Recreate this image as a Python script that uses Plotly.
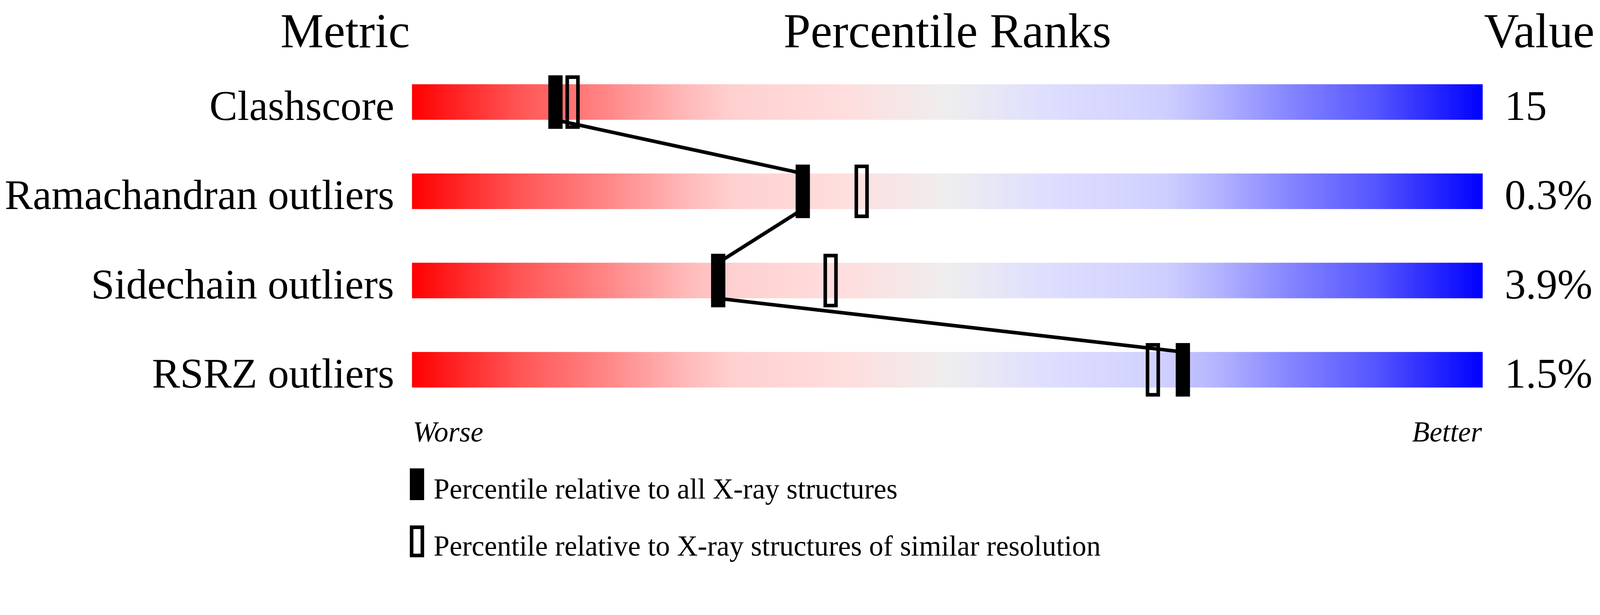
import numpy as np
import plotly.graph_objects as go

metrics = ["Clashscore", "Ramachandran outliers", "Sidechain outliers", "RSRZ outliers"]
values = ["15", "0.3%", "3.9%", "1.5%"]
pct_all = [13.4, 36.5, 28.6, 72.0]        # percentile vs all X-ray structures
pct_similar = [15.0, 42.0, 39.1, 69.2]    # percentile vs similar resolution

legend_labels = ["Percentile relative to all X-ray structures",
                 "Percentile relative to X-ray structures of similar resolution"]

# geometry in screenshot pixels; the browser shows ~1.094 screen px per css px
SCALE = 4485 / 4100
W, H = 4485, 1574
OFF = 8 * SCALE                 # default body margin
BAR_L, BAR_R = 1154, 4153
PX = (BAR_R - BAR_L) / 100.0   # pixels per percentile
ROW0, ROW_STEP = 286, 250
BAR_H, MARK_H, MARK_W, LINE_W = 100, 150, 40, 10
FONT = "Liberation Serif, Times New Roman, serif"

colorscale = [
    [0.0, "#FF0000"], [0.1, "#FF5555"], [0.18, "#FF8585"], [0.25, "#FFB5B5"],
    [0.3, "#FFD0D0"], [0.4, "#FFDDDD"], [0.5, "#EEEEEE"], [0.6, "#DDDDFF"],
    [0.7, "#D0D0FF"], [0.75, "#B5B5FF"], [0.82, "#8585FF"], [0.9, "#5555FF"],
    [1.0, "#0000FF"],
]


def px_to_pct(x):
    return (x - BAR_L) / PX


def row_y(i):
    return ROW0 + i * ROW_STEP


def css(v):
    return v / SCALE


fig = go.Figure()

# gradient bars
edges = np.linspace(0, 100, 401)
mids = (edges[:-1] + edges[1:]) / 2
for i, m in enumerate(metrics):
    c = row_y(i)
    fig.add_trace(go.Heatmap(
        x=edges, y=[c - BAR_H / 2, c + BAR_H / 2], z=[mids],
        colorscale=colorscale, zmin=0, zmax=100, showscale=False,
        hoverinfo="skip",
    ))

# line joining the "all structures" markers
lx, ly = [], []
for i, p in enumerate(pct_all):
    c = row_y(i)
    if i > 0:
        lx.append(p)
        ly.append(c - BAR_H / 2)
    if i < len(pct_all) - 1:
        lx.append(p)
        ly.append(c + BAR_H / 2)
fig.add_trace(go.Scatter(x=lx, y=ly, mode="lines",
                         line=dict(color="black", width=css(LINE_W)),
                         hoverinfo="skip"))

half_w = MARK_W / 2 / PX
inset = LINE_W / 2
for i in range(len(metrics)):
    c = row_y(i)
    p = pct_all[i]
    fig.add_shape(type="rect", xref="x", yref="y", layer="above",
                  x0=p - half_w, x1=p + half_w,
                  y0=c - MARK_H / 2, y1=c + MARK_H / 2,
                  fillcolor="black", line=dict(width=0))
    q = pct_similar[i]
    fig.add_shape(type="rect", xref="x", yref="y", layer="above",
                  x0=q - half_w + inset / PX, x1=q + half_w - inset / PX,
                  y0=c - MARK_H / 2 + inset, y1=c + MARK_H / 2 - inset,
                  fillcolor="rgba(0,0,0,0)", line=dict(color="black", width=css(LINE_W)))

# legend swatches
fig.add_shape(type="rect", xref="x", yref="y", x0=px_to_pct(1148), x1=px_to_pct(1188),
              y0=1312, y1=1401, fillcolor="black", line=dict(width=0))
fig.add_shape(type="rect", xref="x", yref="y", x0=px_to_pct(1153), x1=px_to_pct(1183),
              y0=1477, y1=1556, fillcolor="rgba(0,0,0,0)",
              line=dict(color="black", width=css(10)))

ann = []


def txt(x, y, s, size, anchor, italic=False, yanchor="middle"):
    ann.append(dict(x=x, y=y, xref="x", yref="y", text=s, showarrow=False,
                    xanchor=anchor, yanchor=yanchor,
                    font=dict(family=FONT, size=css(size), color="black",
                              style="italic" if italic else "normal")))


# headers
txt(px_to_pct(1150), OFF, "Metric", 136, "right", yanchor="top")
txt(50, OFF, "Percentile Ranks", 136, "center", yanchor="top")
txt(px_to_pct(4155), OFF, "Value", 136, "left", yanchor="top")

for i, m in enumerate(metrics):
    txt(px_to_pct(1106), row_y(i) + 10, m, 118, "right")
    txt(px_to_pct(4212), row_y(i) + 10, values[i], 118, "left")

txt(0, 1210, "Worse", 80, "left", italic=True)
txt(100, 1210, "Better", 80, "right", italic=True)
txt(px_to_pct(1212), 1370, legend_labels[0], 80, "left")
txt(px_to_pct(1212), 1530, legend_labels[1], 80, "left")

fig.update_layout(
    width=int(css(W - OFF)), height=int(css(H - OFF)),
    margin=dict(l=0, r=0, t=0, b=0),
    paper_bgcolor="white", plot_bgcolor="white",
    showlegend=False,
    annotations=ann,
    xaxis=dict(range=[px_to_pct(OFF), px_to_pct(W)], visible=False, fixedrange=True),
    yaxis=dict(range=[H, OFF], visible=False, fixedrange=True),
)

fig.write_html("out.html")
